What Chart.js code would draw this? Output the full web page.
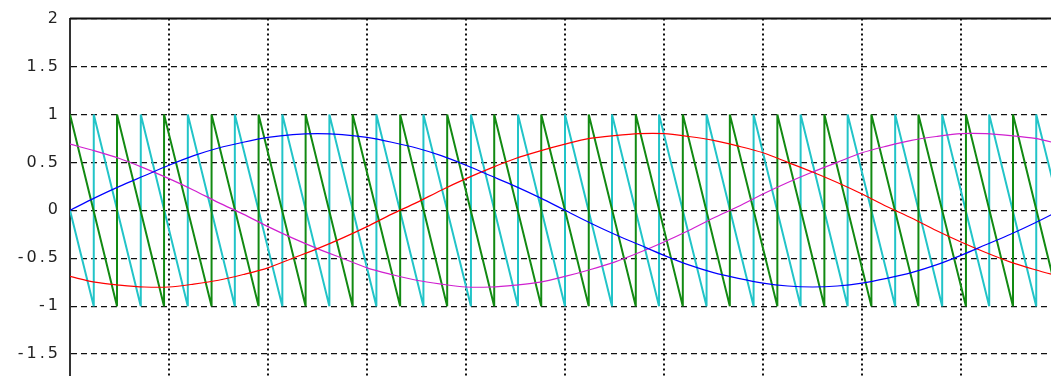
<!DOCTYPE html>
<html>
<head>
<meta charset="utf-8">
<script src="https://cdn.jsdelivr.net/npm/chart.js@4.4.1/dist/chart.umd.min.js"></script>
<style>
  html, body { margin: 0; padding: 0; background: #fff; }
  .graph-container { width: 1051px; height: 376px; overflow: hidden; position: relative; }
  #pwmChart { position: absolute; left: 0; top: 0; }
</style>
</head>
<body>
<div class="graph-container">
  <canvas id="pwmChart" width="1100" height="440"></canvas>
</div>
<script>
// time axis in ms, one 50 Hz period
const timeMs = [0, 0.5, 1, 1.5, 2, 2.5, 3, 3.5, 4, 4.5, 5, 5.5, 6, 6.5, 7, 7.5, 8, 8.5, 9, 9.5,
    10, 10.5, 11, 11.5, 12, 12.5, 13, 13.5, 14, 14.5, 15, 15.5, 16, 16.5, 17, 17.5, 18, 18.5, 19, 19.5, 20];

// modulating waves (blue, red, magenta)
const phaseA = [0, 0.13, 0.25, 0.36, 0.47, 0.57, 0.65, 0.71, 0.76, 0.79, 0.80, 0.79, 0.76, 0.71, 0.65, 0.57, 0.47, 0.36, 0.25, 0.13,
    0, -0.13, -0.25, -0.36, -0.47, -0.57, -0.65, -0.71, -0.76, -0.79, -0.80, -0.79, -0.76, -0.71, -0.65, -0.57, -0.47, -0.36, -0.25, -0.13, 0];
const phaseB = [-0.69, -0.75, -0.78, -0.80, -0.80, -0.77, -0.73, -0.67, -0.60, -0.50, -0.40, -0.29, -0.17, -0.04, 0.08, 0.21, 0.33, 0.44, 0.54, 0.62,
    0.69, 0.75, 0.78, 0.80, 0.80, 0.77, 0.73, 0.67, 0.60, 0.50, 0.40, 0.29, 0.17, 0.04, -0.08, -0.21, -0.33, -0.44, -0.54, -0.62, -0.69];
const phaseC = [0.69, 0.62, 0.54, 0.44, 0.33, 0.21, 0.08, -0.04, -0.17, -0.29, -0.40, -0.50, -0.60, -0.67, -0.73, -0.77, -0.80, -0.80, -0.78, -0.75,
    -0.69, -0.62, -0.54, -0.44, -0.33, -0.21, -0.08, 0.04, 0.17, 0.29, 0.40, 0.50, 0.60, 0.67, 0.73, 0.77, 0.80, 0.80, 0.78, 0.75, 0.69];

// carrier sawtooths: times (ms) where each one drops from -1 back to 1
const carrierGreenJumps = [0.95, 1.90, 2.86, 3.81, 4.76, 5.71, 6.67, 7.62, 8.57, 9.52, 10.48,
    11.43, 12.38, 13.33, 14.29, 15.24, 16.19, 17.14, 18.10, 19.05, 20.00];
const carrierCyanJumps = [0.48, 1.43, 2.38, 3.33, 4.29, 5.24, 6.19, 7.14, 8.10, 9.05, 10.00,
    10.95, 11.90, 12.86, 13.81, 14.76, 15.71, 16.67, 17.62, 18.57, 19.52];
const carrierGreenStart = 1;
const carrierCyanStart = 0;
const carrierCyanEnd = 0;

const yTicks = [2, 1.5, 1, 0.5, 0, -0.5, -1, -1.5, -2];
const xTicks = [0, 2, 4, 6, 8, 10, 12, 14, 16, 18, 20];

const toPoints = (values) => timeMs.map((t, i) => ({ x: t, y: values[i] }));

const sawPoints = (start, jumps, end) => {
    const pts = [{ x: 0, y: start }];
    jumps.forEach(t => {
        pts.push({ x: t, y: -1 });
        pts.push({ x: t, y: 1 });
    });
    if (end !== undefined) pts.push({ x: timeMs[timeMs.length - 1], y: end });
    return pts;
};

const topBorder = {
    id: 'topBorder',
    beforeDraw(chart) {
        chart.ctx.letterSpacing = '3px';
    },
    afterDatasetsDraw(chart) {
        const { ctx, chartArea } = chart;
        ctx.save();
        ctx.strokeStyle = '#111';
        ctx.lineWidth = 2;
        ctx.beginPath();
        ctx.moveTo(chartArea.left, chartArea.top);
        ctx.lineTo(chartArea.right, chartArea.top);
        ctx.stroke();
        ctx.restore();
    }
};

const sineStyle = { borderWidth: 1.2, pointRadius: 0, tension: 0.3 };
const carrierStyle = { borderWidth: 2, pointRadius: 0, tension: 0, borderJoinStyle: 'bevel', borderCapStyle: 'butt' };

const ctx = document.getElementById('pwmChart');
new Chart(ctx, {
    type: 'line',
    data: {
        datasets: [
            { label: 'ua', data: toPoints(phaseA), borderColor: '#0000ff', ...sineStyle },
            { label: 'ub', data: toPoints(phaseB), borderColor: '#ff0000', ...sineStyle },
            { label: 'uc', data: toPoints(phaseC), borderColor: '#d020d0', ...sineStyle },
            { label: 'carrier 1', data: sawPoints(carrierGreenStart, carrierGreenJumps), borderColor: '#128a12', ...carrierStyle },
            { label: 'carrier 2', data: sawPoints(carrierCyanStart, carrierCyanJumps, carrierCyanEnd), borderColor: '#22c4c8', ...carrierStyle }
        ]
    },
    options: {
        responsive: false,
        animation: false,
        events: [],
        layout: { padding: { left: 0, top: 18, right: 40, bottom: 38 } },
        plugins: { legend: { display: false }, tooltip: { enabled: false } },
        scales: {
            x: {
                type: 'linear',
                min: 0,
                max: 20,
                afterBuildTicks: (scale) => { scale.ticks = xTicks.map(v => ({ value: v })); },
                afterFit: (scale) => { scale.height = 0; },
                ticks: { display: false },
                grid: { color: '#111', lineWidth: 2, drawTicks: false },
                border: { display: true, color: '#111', width: 2, dash: [2, 3] }
            },
            y: {
                min: -2,
                max: 2,
                afterBuildTicks: (scale) => { scale.ticks = yTicks.map(v => ({ value: v })); },
                afterFit: (scale) => { scale.width = 70; },
                ticks: {
                    padding: 9,
                    color: '#222',
                    font: { family: 'DejaVu Sans', size: 16 },
                    callback: (v) => String(v)
                },
                grid: { color: '#111', lineWidth: 1.2, drawTicks: false },
                border: { display: true, color: '#333', width: 2, dash: [6, 4] }
            }
        }
    },
    plugins: [topBorder]
});
</script>
</body>
</html>
